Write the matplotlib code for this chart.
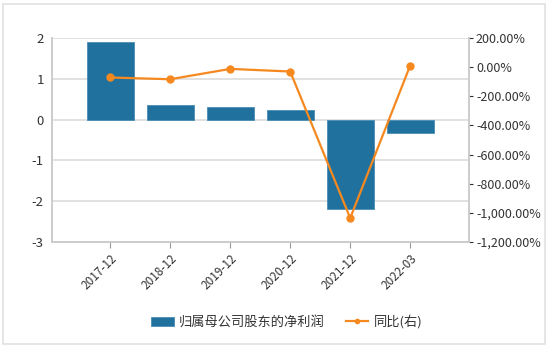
import matplotlib.pyplot as plt
import numpy as np
from matplotlib.ticker import FuncFormatter
from matplotlib.patches import Rectangle

plt.rcParams['font.family'] = ['Noto Sans CJK SC', 'DejaVu Sans']
plt.rcParams['axes.unicode_minus'] = False

periods = ['2017-12', '2018-12', '2019-12', '2020-12', '2021-12', '2022-03']
net_profit = [1.89, 0.36, 0.31, 0.24, -2.20, -0.34]
yoy_pct = [-71, -83, -12, -30, -1036, 11]

bar_color = '#21719f'
line_color = '#f5891f'
grid_color = '#dcdcdc'
text_color = '#333333'

fig = plt.figure(figsize=(5.5, 3.58), dpi=100)
fig.patches.append(Rectangle((0.006, 0.04), 0.985, 0.95, transform=fig.transFigure,
                             fill=False, edgecolor='#e0e0e0', linewidth=1.2))
ax = fig.add_axes([52 / 550, 1 - 242 / 358, 417 / 550, 204 / 358])
ax2 = ax.twinx()

x = np.arange(len(periods))
bars = ax.bar(x, net_profit, width=0.78, color=bar_color, edgecolor='#4a8db5',
              linewidth=0.6, zorder=2)
ax.set_xlim(-0.97, 5.98)
ax.set_ylim(-3, 2)
ax.set_yticks([-3, -2, -1, 0, 1, 2])
ax.grid(axis='y', color=grid_color, linewidth=1.2, zorder=0)
ax.set_axisbelow(True)
ax.set_xticks(x)
ax.set_xticklabels(periods, rotation=45, ha='right', rotation_mode='anchor',
                   fontsize=8.5, color=text_color)
ax.tick_params(axis='x', length=4, color='#999999', pad=3)
ax.tick_params(axis='y', length=0, labelsize=9.5, colors=text_color, pad=6)

line, = ax2.plot(x, yoy_pct, color=line_color, marker='o', markersize=5,
                 linewidth=1.6, zorder=3)
ax2.set_ylim(-1200, 200)
ax2.set_yticks(np.arange(-1200, 201, 200))
ax2.yaxis.set_major_formatter(FuncFormatter(lambda v, p: f'{v:,.2f}%'))
ax2.tick_params(axis='y', length=3, labelsize=9, colors=text_color, pad=2)

for a in (ax, ax2):
    a.spines['top'].set_visible(False)
    for s in ('left', 'right', 'bottom'):
        a.spines[s].set_color('#cccccc')
        a.spines[s].set_linewidth(1.2)

fig.legend([bars, line], ['归属母公司股东的净利润', '同比(右)'], loc='center',
           bbox_to_anchor=(287 / 550, 1 - 322 / 358), ncol=2, frameon=False,
           fontsize=9.5, handlelength=1.7, handletextpad=0.4, columnspacing=1.6,
           markerscale=0.6, labelcolor=text_color)

fig.savefig('out.png', dpi=100)
